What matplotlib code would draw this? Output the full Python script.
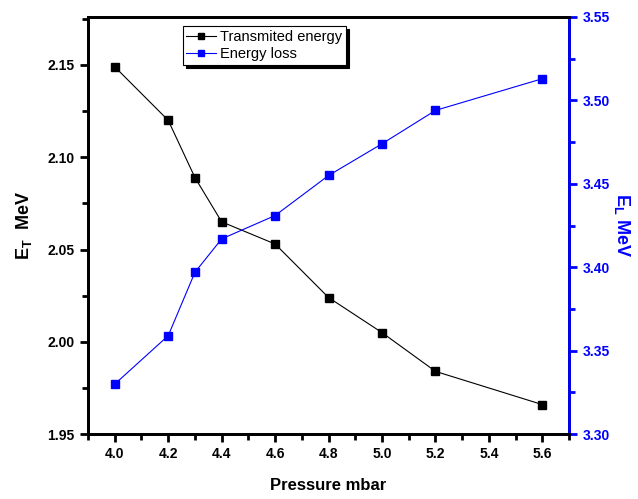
import matplotlib
matplotlib.use("Agg")
import matplotlib.pyplot as plt
from matplotlib.ticker import MultipleLocator

plt.rcParams['font.family'] = ['Liberation Sans', 'DejaVu Sans']
plt.rcParams['mathtext.fontset'] = 'custom'
plt.rcParams['mathtext.rm'] = 'Liberation Sans:bold'
plt.rcParams['mathtext.bf'] = 'Liberation Sans:bold'
plt.rcParams['mathtext.it'] = 'Liberation Sans:bold'

pressure = [4.0, 4.2, 4.3, 4.4, 4.6, 4.8, 5.0, 5.2, 5.6]
e_trans = [2.149, 2.120, 2.089, 2.065, 2.053, 2.024, 2.005, 1.984, 1.966]
e_loss = [3.330, 3.359, 3.397, 3.417, 3.431, 3.455, 3.474, 3.494, 3.513]

fig = plt.figure(figsize=(6.38, 4.99), dpi=100)
ax = fig.add_axes([0.138, 0.130, 0.754, 0.836])
ax2 = ax.twinx()

l1, = ax.plot(pressure, e_trans, color='black', marker='s', ms=6, lw=0.8,
              label='Transmited energy')
l2, = ax2.plot(pressure, e_loss, color='blue', marker='s', ms=6, lw=0.8,
               label='Energy loss')

ax.set_xlim(3.9, 5.7)
ax.set_ylim(1.95, 2.176)
ax2.set_ylim(3.30, 3.55)

ax.xaxis.set_major_locator(MultipleLocator(0.2))
ax.xaxis.set_minor_locator(MultipleLocator(0.1))
ax.yaxis.set_major_locator(MultipleLocator(0.05))
ax.yaxis.set_minor_locator(MultipleLocator(0.025))
ax2.yaxis.set_major_locator(MultipleLocator(0.05))
ax2.yaxis.set_minor_locator(MultipleLocator(0.025))

for s in ax.spines.values():
    s.set_linewidth(2)
for s in ax2.spines.values():
    s.set_linewidth(2)
ax2.spines['right'].set_color('blue')

ax.tick_params(which='major', direction='out', length=6, width=2, labelsize=10)
ax.tick_params(which='minor', direction='out', length=4, width=2)
ax2.tick_params(which='major', direction='out', length=6, width=2, labelsize=10,
                colors='blue')
ax2.tick_params(which='minor', direction='out', length=4, width=2, colors='blue')

ax.xaxis.set_major_formatter(lambda v, p: f'{v:.1f}')
ax.yaxis.set_major_formatter(lambda v, p: f'{v:.2f}')
ax2.yaxis.set_major_formatter(lambda v, p: f'{v:.2f}')
for lab in ax.get_xticklabels() + ax.get_yticklabels() + ax2.get_yticklabels():
    lab.set_fontweight('bold')

ax.set_xlabel('Pressure mbar', fontsize=12, fontweight='bold', labelpad=12)
ax.set_ylabel(r'$\mathrm{E_T}$  MeV', fontsize=13, fontweight='bold', labelpad=10)
ax2.set_ylabel(r'$\mathrm{E_L}$ MeV', fontsize=13, fontweight='bold', color='blue',
               rotation=270, labelpad=16)

leg = ax.legend(handles=[l1, l2], loc='upper left', bbox_to_anchor=(0.197, 0.978),
                fontsize=10.5, frameon=True, shadow={'color': 'black', 'alpha': 1},
                fancybox=False, borderpad=0.25, handlelength=2.0, handletextpad=0.3,
                labelspacing=0.25, borderaxespad=0, markerscale=0.8)
leg.get_frame().set_edgecolor('black')
leg.get_frame().set_linewidth(0.8)

fig.savefig('out.png', dpi=100)
